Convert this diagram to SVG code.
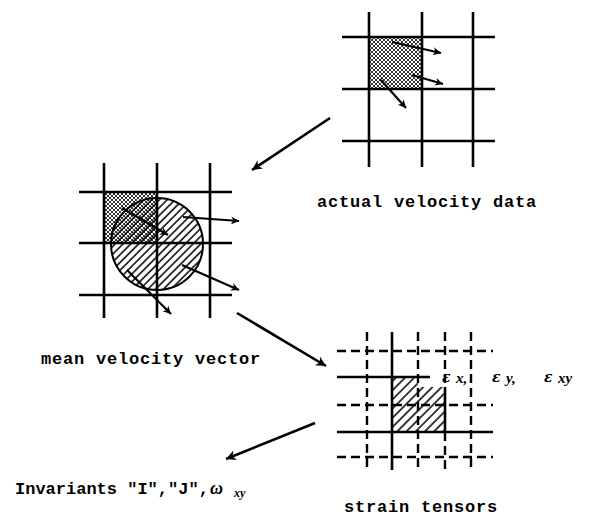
<svg xmlns="http://www.w3.org/2000/svg" width="593" height="529" viewBox="0 0 593 529">
<style>
.g{stroke:#000;stroke-width:2.6;fill:none;stroke-linecap:butt}
.d{stroke:#000;stroke-width:2.4;fill:none;stroke-dasharray:9 5}
.v{stroke:#000;stroke-width:2.2;fill:none;marker-end:url(#sh)}
.c{stroke:#000;stroke-width:2.6;fill:none;marker-end:url(#bh)}
.t{font-family:"Liberation Mono","DejaVu Sans Mono",monospace;font-weight:bold;font-size:17px;fill:#000}
.e{font-family:"Liberation Serif","DejaVu Serif",serif;font-style:italic;font-weight:bold;fill:#000}
.ep{font-family:"DejaVu Serif",serif;font-style:italic;font-weight:bold;font-size:14px}
</style>
<defs>
<pattern id="xh" width="4" height="4" patternUnits="userSpaceOnUse">
<rect width="4" height="4" fill="#fff"/>
<path d="M0,0 L4,4 M4,0 L0,4" stroke="#000" stroke-width="0.8"/>
</pattern>
<pattern id="hc" width="5.5" height="10" patternUnits="userSpaceOnUse" patternTransform="rotate(45)">
<line x1="1" y1="0" x2="1" y2="10" stroke="#000" stroke-width="1.5"/>
</pattern>
<pattern id="hs" width="6.5" height="10" patternUnits="userSpaceOnUse" patternTransform="rotate(45)">
<line x1="1" y1="0" x2="1" y2="10" stroke="#000" stroke-width="1.5"/>
</pattern>
<marker id="sh" viewBox="0 0 10 10" refX="10" refY="5" markerWidth="12" markerHeight="8" markerUnits="userSpaceOnUse" orient="auto">
<path d="M0,0 L10,5 L0,10 L3,5 z" fill="#000"/>
</marker>
<marker id="bh" viewBox="0 0 10 10" refX="10" refY="5" markerWidth="14" markerHeight="10" markerUnits="userSpaceOnUse" orient="auto">
<path d="M0,0 L10,5 L0,10 L3,5 z" fill="#000"/>
</marker>
</defs>
<rect width="593" height="529" fill="#fff"/>

<g id="actual-velocity-data">
<rect x="369" y="37" width="53" height="52" fill="url(#xh)"/>
<path class="g" d="M369,12 V167 M422,12 V167 M473,12 V167 M342,37 H495 M342,89 H495 M342,141 H495"/>
<path class="v" d="M392,42 L441,53"/>
<path class="v" d="M412,75 L443,84"/>
<path class="v" d="M380,79 L406,108"/>
<text class="t" x="317" y="207" letter-spacing="0.8">actual velocity data</text>
</g>

<g id="mean-velocity-vector">
<rect x="104" y="192" width="53" height="51" fill="url(#xh)"/>
<circle cx="157" cy="244" r="46" fill="url(#hc)" stroke="#000" stroke-width="2"/>
<path class="g" d="M104,163 V318 M157,163 V318 M210,163 V318 M79,192 H232 M79,243 H232 M79,295 H232"/>
<path class="v" d="M183,217 L239,221"/>
<path class="v" d="M122,208 L168,235" stroke-width="3"/>
<path class="v" d="M182,265 L239,290"/>
<path class="v" d="M127,270 L171,314"/>
<text class="t" x="41" y="364" letter-spacing="0.8">mean velocity vector</text>
</g>

<g id="strain-tensors">
<path d="M392,377 H418 V387 H445 V432 H392 Z" fill="url(#hs)"/>
<path class="d" d="M367,332 V470 M418,332 V470 M471,332 V470 M445,332 V387 M445,432 V470 M337,351 H493 M337,405 H493 M337,457 H493"/>
<path class="g" d="M392,332 V470 M445,387 V432 M337,377 H430 M337,432 H493"/>
<text class="e" font-size="15"><tspan class="ep" x="442" y="382">ε</tspan><tspan x="456" y="383">x,</tspan><tspan class="ep" x="492" y="382">ε</tspan><tspan x="506" y="383">y,</tspan><tspan class="ep" x="544" y="382">ε</tspan><tspan x="558" y="383">xy</tspan></text>
<text class="t" x="344" y="512" letter-spacing="0.8">strain tensors</text>
</g>

<g id="invariants">
<text class="t" x="15" y="494">Invariants "I","J",</text>
<text class="e" x="210" y="494" font-size="18" font-weight="normal">ω</text>
<text class="e" x="234" y="497" font-size="12">xy</text>
</g>

<g id="connectors">
<path class="c" d="M330,118 L252,170"/>
<path class="c" d="M237,313 L326,366"/>
<path class="c" d="M315,423 L226,459"/>
</g>
</svg>
